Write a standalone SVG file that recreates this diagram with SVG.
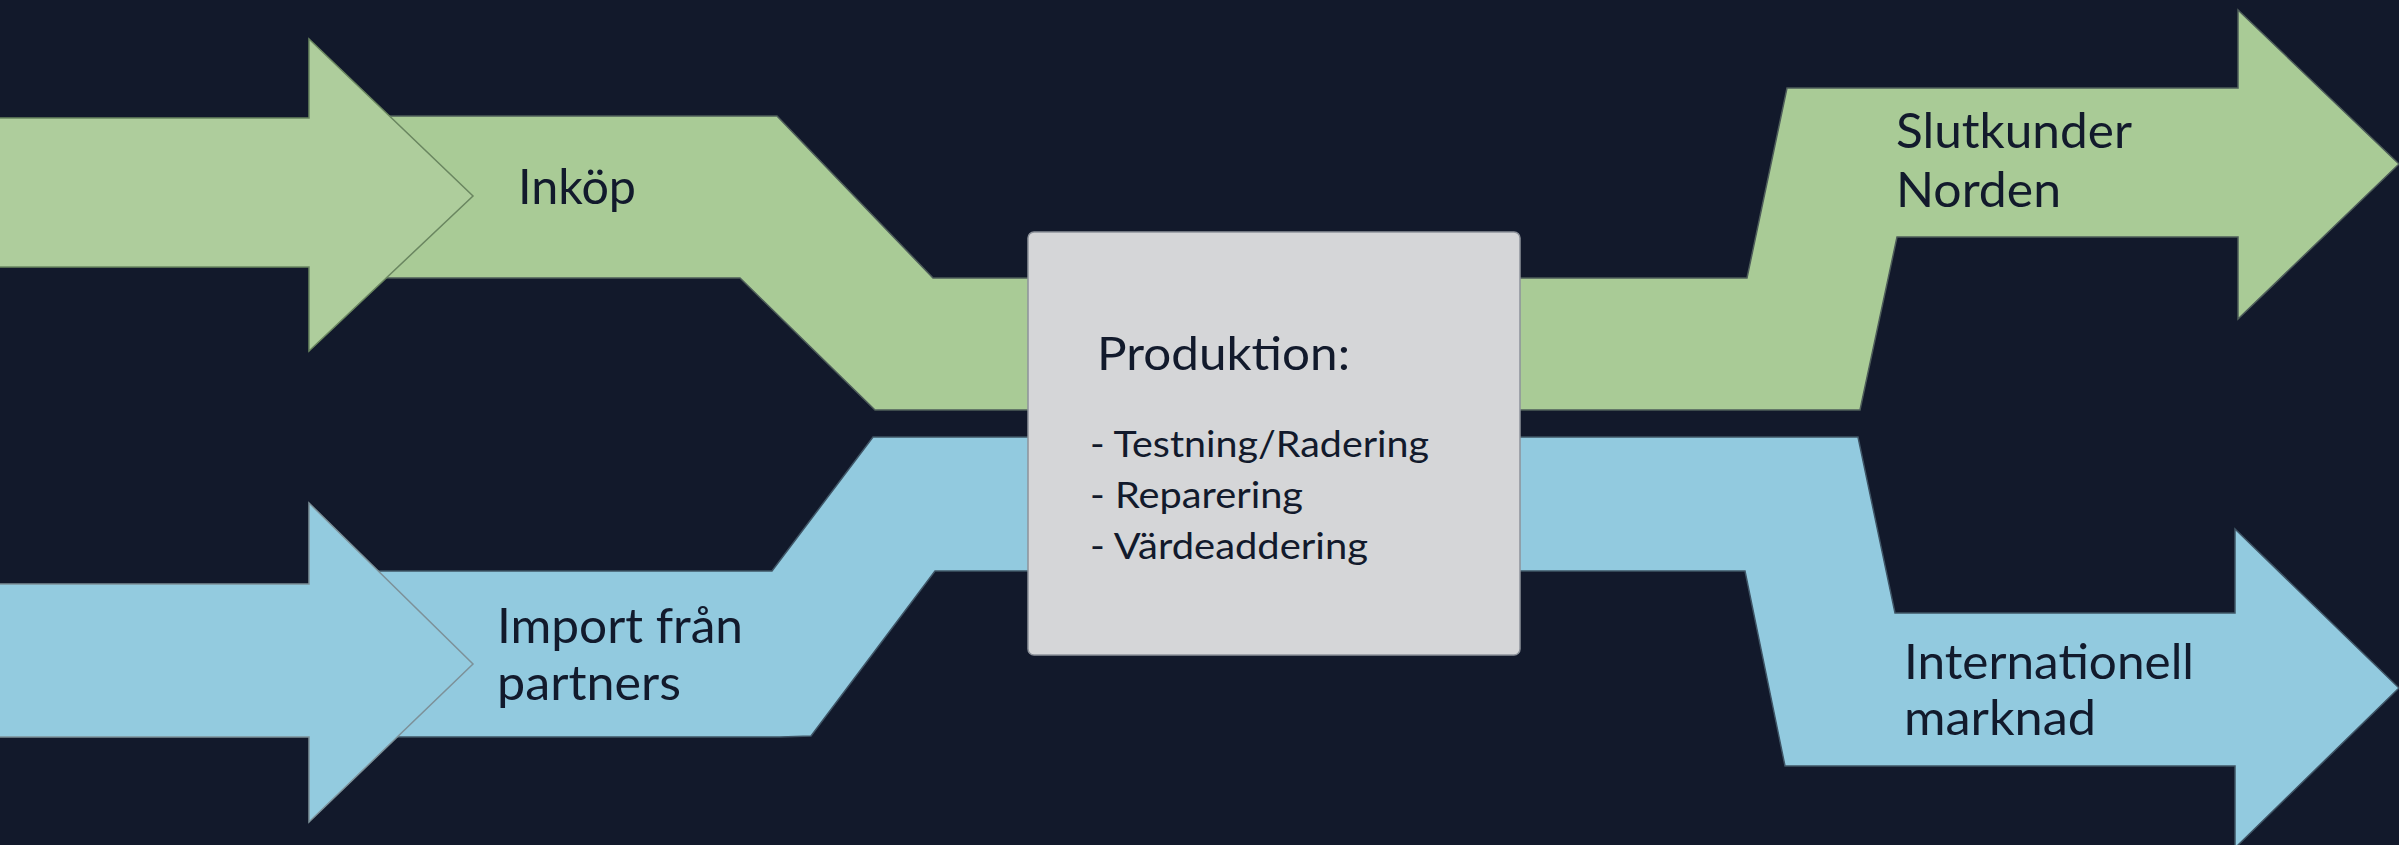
<svg xmlns="http://www.w3.org/2000/svg" width="2399" height="845" viewBox="0 0 2399 845">
  <style>
    .lbl { font-family: Lato, "Noto Sans", "Liberation Sans", sans-serif; fill: #121a2c; }
    .big { font-size: 48px; }
    .item { font-size: 37px; }
    .green { fill: #a9cb96; stroke: #4e5d5a; stroke-width: 1.5; stroke-linejoin: miter; }
    .blue { fill: #92cadf; stroke: #3f5566; stroke-width: 1.5; stroke-linejoin: miter; }
    .greenArrow { fill: #aecd9c; stroke: #6a8660; stroke-width: 1.5; }
    .blueArrow { fill: #93cbdf; stroke: #7d9199; stroke-width: 1.5; }
  </style>
  <rect x="0" y="0" width="2399" height="845" fill="#12192b"/>

  <g id="connectors">
    <polygon id="band-inkop" class="green" points="350,116 777,116 933,278 1040,278 1040,410 875,410 740,278 350,278"/>
    <polygon id="band-import" class="blue" points="350,571 772,571 873,437 1040,437 1040,571 935,571 811,736 780,737 350,737"/>
  </g>

  <g id="node-inkop">
    <polygon class="greenArrow" points="-5,118 309,118 309,39 473,196 309,351 309,267 -5,267"/>
    <text class="lbl big" x="518" y="204" textLength="118" lengthAdjust="spacingAndGlyphs">Inköp</text>
  </g>

  <g id="node-import">
    <polygon class="blueArrow" points="-5,584 309,584 309,503 473,664 309,822 309,737 -5,737"/>
    <text class="lbl big" x="497" y="643" textLength="246" lengthAdjust="spacingAndGlyphs">Import från</text>
    <text class="lbl big" x="497" y="700" textLength="184" lengthAdjust="spacingAndGlyphs">partners</text>
  </g>

  <g id="node-slutkunder">
    <polygon class="green" points="1500,278 1747,278 1787,88 2238,88 2238,10 2399,164 2238,319 2238,237 1897,237 1860,410 1500,410"/>
    <text class="lbl big" x="1896" y="148" textLength="236" lengthAdjust="spacingAndGlyphs">Slutkunder</text>
    <text class="lbl big" x="1896" y="207" textLength="165" lengthAdjust="spacingAndGlyphs">Norden</text>
  </g>

  <g id="node-internationell">
    <polygon class="blue" points="1500,437 1858,437 1895,613 2235,613 2235,529 2399,688 2235,848 2235,766 1785,766 1745,571 1500,571"/>
    <text class="lbl big" x="1904" y="679" textLength="290" lengthAdjust="spacingAndGlyphs">Internationell</text>
    <text class="lbl big" x="1904" y="735" textLength="192" lengthAdjust="spacingAndGlyphs">marknad</text>
  </g>

  <g id="node-produktion">
    <rect x="1028" y="232" width="492" height="423" rx="6" ry="6" fill="#d5d6d8" stroke="#8d929a" stroke-width="1.5"/>
    <text class="lbl big" x="1097" y="370" style="font-size:47px" textLength="253" lengthAdjust="spacingAndGlyphs">Produktion:</text>
    <text class="lbl item" x="1090" y="457" textLength="339" lengthAdjust="spacingAndGlyphs">- Testning/Radering</text>
    <text class="lbl item" x="1090" y="507.5" textLength="213" lengthAdjust="spacingAndGlyphs">- Reparering</text>
    <text class="lbl item" x="1090" y="558.5" textLength="278" lengthAdjust="spacingAndGlyphs">- Värdeaddering</text>
  </g>
</svg>
